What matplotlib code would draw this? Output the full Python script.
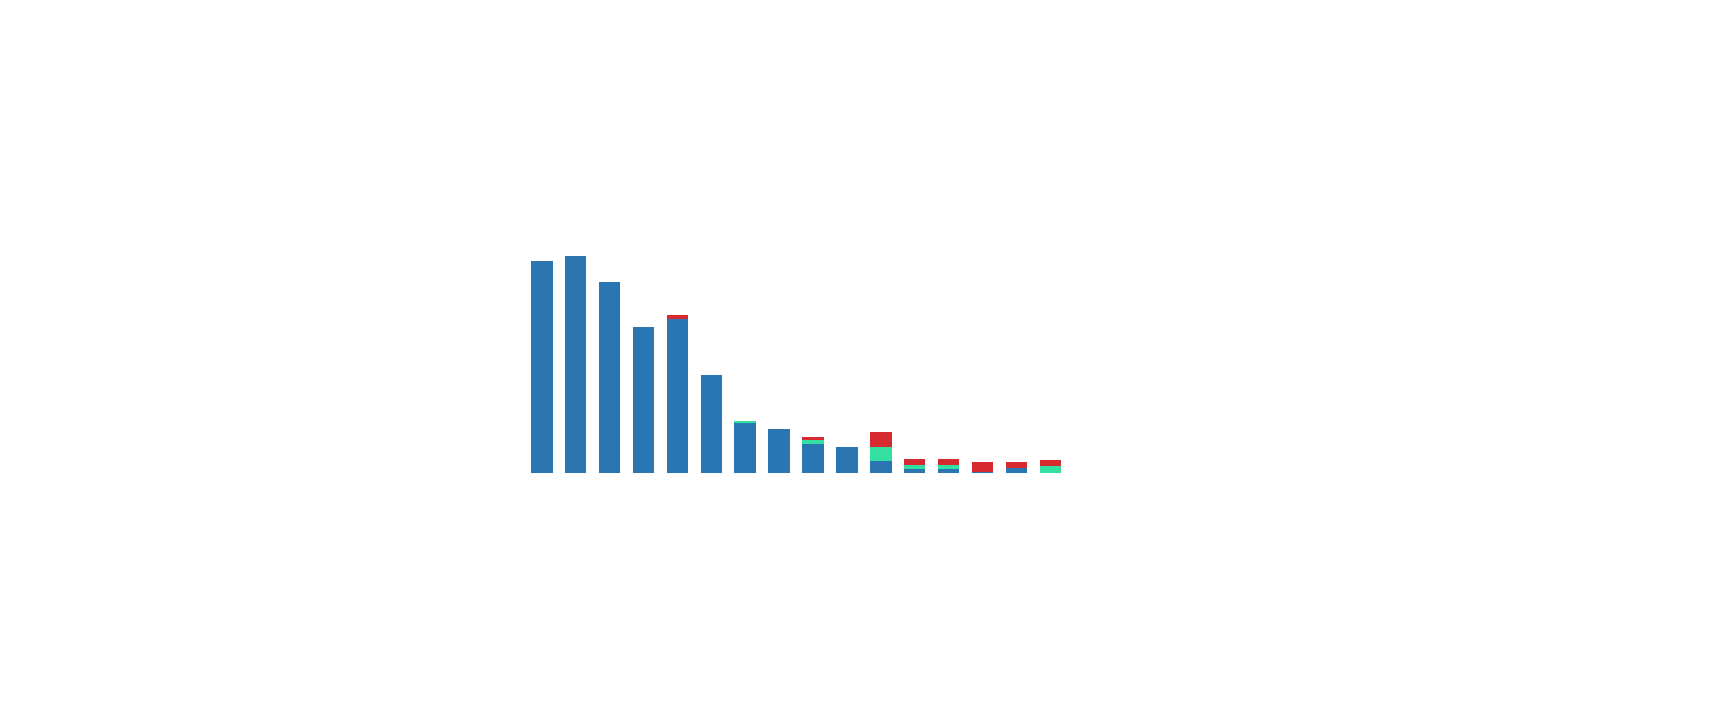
"""
Stacked bar chart: three categories per bin, no axes or labels.
"""

import matplotlib

matplotlib.use("Agg")
import matplotlib.pyplot as plt
import numpy as np


BINS = list(range(16))
BLUE_VALUES = [212, 217.5, 191, 146, 154.5, 98.5, 50, 44.5, 29.5, 26.5, 12, 4.5, 4.5, 1, 5.3, 0]
GREEN_VALUES = [0, 0, 0, 0, 0, 0, 2.7, 0, 4, 0, 14, 3.3, 3.3, 0, 0, 7.7]
RED_VALUES = [0, 0, 0, 0, 4, 0, 0, 0, 2.7, 0, 15, 6, 6, 10.5, 5.7, 6]

BLUE = "#2a76b2"
GREEN = "#33e0a1"
RED = "#d62a30"

OUTPUT_PATH = "out.png"


def main():
    x = np.array(BINS)
    blue = np.array(BLUE_VALUES)
    green = np.array(GREEN_VALUES)
    red = np.array(RED_VALUES)

    fig = plt.figure(figsize=(17.18, 7.26), dpi=100)
    ax = fig.add_axes([0.3055, 0.3481, 0.3157, 0.3168])

    width = 0.635
    ax.bar(x, blue, width=width, color=BLUE, linewidth=0)
    ax.bar(x, green, width=width, bottom=blue, color=GREEN, linewidth=0)
    ax.bar(x, red, width=width, bottom=blue + green, color=RED, linewidth=0)

    ax.set_xlim(-0.5, 15.5)
    ax.set_ylim(0, 230)
    ax.axis("off")

    fig.savefig(OUTPUT_PATH, dpi=100)
    plt.close(fig)


if __name__ == "__main__":
    main()
